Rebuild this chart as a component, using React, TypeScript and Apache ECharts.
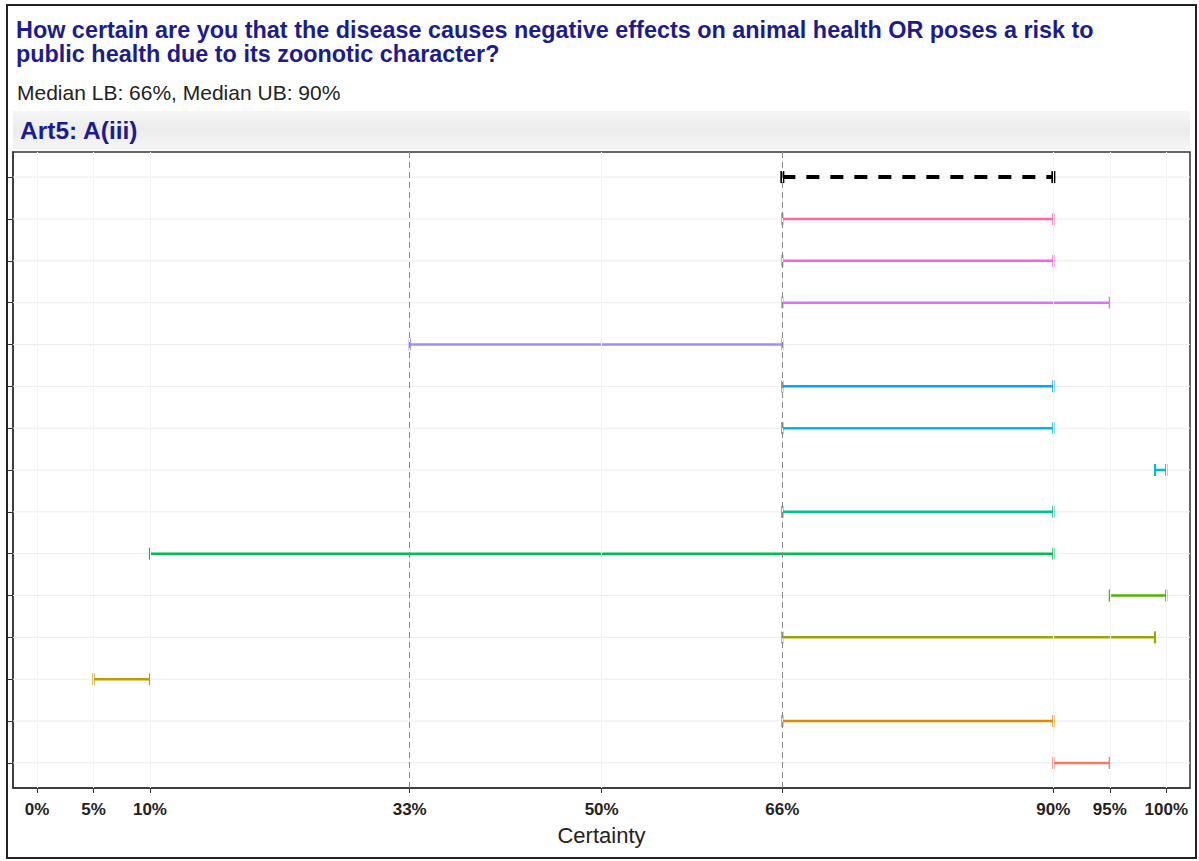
import React, { useEffect, useRef } from "react";
import * as echarts from "echarts";

const rowNames = ["Median", "R1", "R2", "R3", "R4", "R5", "R6", "R7", "R8", "R9", "R10", "R11", "R12", "R13", "R14"];
const lowerBounds = [66, 66, 66, 66, 33, 66, 66, 99, 66, 10, 95, 66, 5, 66, 90];
const upperBounds = [90, 90, 90, 95, 66, 90, 90, 100, 90, 90, 100, 99, 10, 90, 95];
const rowColors = [
  "#000000", "#FF66A8", "#FB61D7", "#DF70F8", "#A58AFF", "#06A4FF", "#00B6EB",
  "#00BFC4", "#00C094", "#00BC56", "#53B400", "#99A800", "#C49A00", "#E38900", "#F8766D",
];
const tickValues = [0, 5, 10, 33, 50, 66, 90, 95, 100];
const refLines = [33, 66];

const titleText = "How certain are you that the disease causes negative effects on animal health OR poses a risk to\npublic health due to its zoonotic character?";
const subtitleText = "Median LB: 66%, Median UB: 90%";
const stripText = "Art5: A(iii)";

export default function App() {
  const ref = useRef<HTMLDivElement>(null);
  useEffect(() => {
    if (!ref.current) return;
    const chart = echarts.init(ref.current, null, { renderer: "svg" });
    const font = "'Liberation Sans', Arial, sans-serif";
    const rowIdx = rowNames.map((_, i) => i);
    const data = rowNames.map((_, i) => [lowerBounds[i], upperBounds[i], i]);

    chart.setOption({
      animation: false,
      backgroundColor: "#ffffff",
      title: [
        {
          text: titleText,
          left: 11,
          top: 13,
          textStyle: { fontFamily: font, fontSize: 23.4, fontWeight: "bold", color: "#1C1C8C", lineHeight: 24 },
        },
        {
          text: subtitleText,
          left: 12,
          top: 77,
          textStyle: { fontFamily: font, fontSize: 21, fontWeight: "normal", color: "#222222" },
        },
      ],
      graphic: [
        {
          type: "rect",
          shape: { x: 7, y: 5, width: 1189, height: 853 },
          style: { fill: "none", stroke: "#222222", lineWidth: 2 },
          silent: true,
        },
        {
          type: "rect",
          shape: { x: 13, y: 111, width: 1177, height: 39 },
          style: {
            fill: new echarts.graphic.LinearGradient(0, 0, 0, 1, [
              { offset: 0, color: "#f6f6f6" },
              { offset: 0.5, color: "#ececec" },
              { offset: 1, color: "#f6f6f6" },
            ]),
          },
          silent: true,
        },
        {
          type: "text",
          x: 20,
          y: 118,
          style: { text: stripText, fontFamily: font, fontSize: 24.5, fontWeight: "bold", fill: "#1C1C8C" },
          silent: true,
        },
      ],
      grid: {
        left: 13,
        right: 9,
        top: 152,
        bottom: 73,
        show: true,
        borderColor: "#333333",
        borderWidth: 1.5,
        backgroundColor: "#ffffff",
      },
      xAxis: {
        type: "value",
        min: -2.13,
        max: 102.1,
        name: "Certainty",
        nameLocation: "middle",
        nameGap: 36,
        nameTextStyle: { fontFamily: font, fontSize: 22, color: "#222222" },
        axisLine: { show: true, onZero: false, lineStyle: { color: "#333333", width: 1.5 } },
        axisTick: { show: true, customValues: tickValues, length: 5, lineStyle: { color: "#333333" } },
        axisLabel: {
          customValues: tickValues,
          formatter: (v: number) => `${v}%`,
          fontFamily: font,
          fontSize: 17,
          fontWeight: "bold",
          color: "#222222",
          margin: 13,
        },
        splitLine: { show: false },
      },
      yAxis: {
        type: "value",
        min: -0.6,
        max: 14.6,
        inverse: true,
        axisLine: { show: true, onZero: false, lineStyle: { color: "#333333", width: 1.5 } },
        axisTick: { show: true, customValues: rowIdx, length: 5, lineStyle: { color: "#333333" } },
        axisLabel: { show: false },
        splitLine: { show: false },
      },
      series: [
        {
          type: "custom",
          silent: true,
          z: 1,
          data: rowIdx.map((i) => [i]),
          renderItem: (params: any, api: any) => {
            const y = api.value(0);
            const a = api.coord([-2.13, y]);
            const b = api.coord([102.1, y]);
            return {
              type: "line",
              shape: { x1: a[0], y1: a[1], x2: b[0], y2: b[1] },
              style: { stroke: "#ececec", lineWidth: 1 },
            };
          },
          markLine: {
            silent: true,
            symbol: "none",
            label: { show: false },
            data: [
              ...tickValues.map((v) => ({ xAxis: v, lineStyle: { color: "#f4f4f4", width: 1, type: "solid" } })),
              ...refLines.map((v) => ({ xAxis: v, lineStyle: { color: "#888888", width: 1, type: [6, 4] } })),
            ],
          },
        },
        {
          type: "custom",
          z: 3,
          encode: { x: [0, 1], y: 2 },
          data,
          renderItem: (params: any, api: any) => {
            const i = params.dataIndex;
            const y = api.value(2);
            const p1 = api.coord([api.value(0), y]);
            const p2 = api.coord([api.value(1), y]);
            const color = rowColors[i];
            const isMedian = i === 0;
            const lw = isMedian ? 4 : 2.5;
            const capH = 6;
            const capW = isMedian ? 4 : 2.2;
            return {
              type: "group",
              children: [
                {
                  type: "line",
                  shape: { x1: p1[0], y1: p1[1], x2: p2[0], y2: p2[1] },
                  style: { stroke: color, lineWidth: lw, lineDash: isMedian ? [13, 11] : null },
                },
                {
                  type: "line",
                  shape: { x1: p1[0], y1: p1[1] - capH, x2: p1[0], y2: p1[1] + capH },
                  style: { stroke: color, lineWidth: capW },
                },
                {
                  type: "line",
                  shape: { x1: p2[0], y1: p2[1] - capH, x2: p2[0], y2: p2[1] + capH },
                  style: { stroke: color, lineWidth: capW },
                },
              ],
            };
          },
        },
      ],
    });
    return () => chart.dispose();
  }, []);

  return (
    <div
      ref={ref}
      style={{ position: "fixed", left: 0, top: 0, width: 1199, height: 861 }}
    />
  );
}
